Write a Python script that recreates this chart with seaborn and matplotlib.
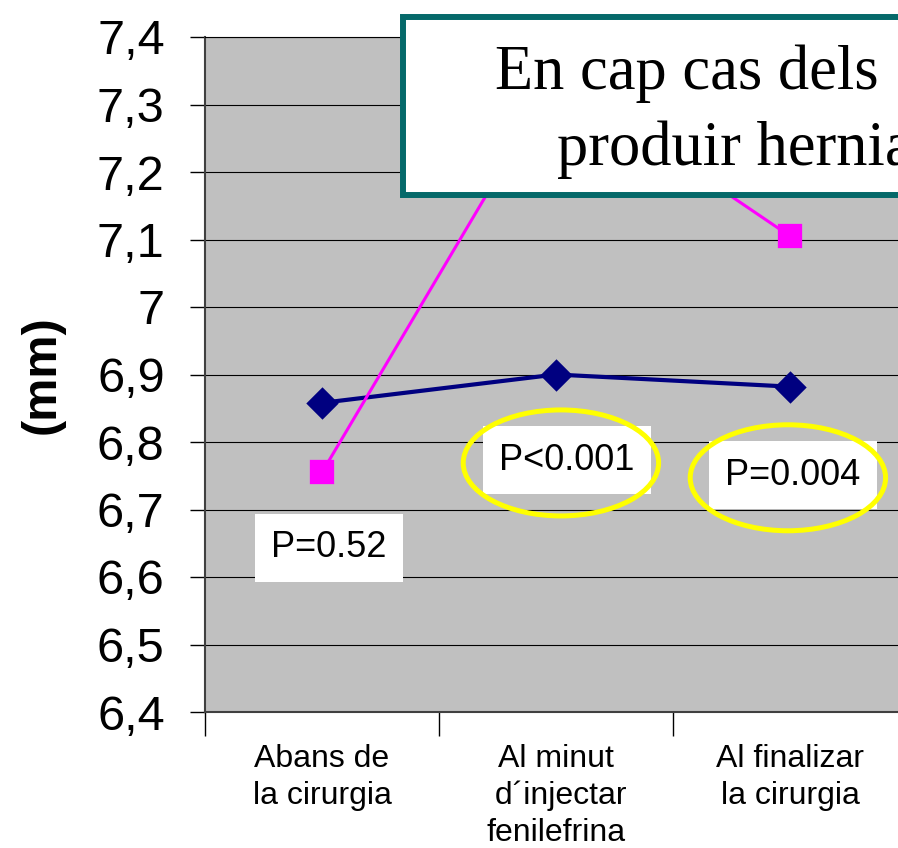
import pandas as pd
import numpy as np
import matplotlib
matplotlib.use("Agg")
import matplotlib.pyplot as plt
from matplotlib.patches import Ellipse, Rectangle
import seaborn as sns

# values
categories = ["Abans de\nla cirurgia", "Al minut\n d´injectar\nfenilefrina", "Al finalizar\nla cirurgia"]
serie_blava = [6.858, 6.900, 6.882]
serie_rosa = [6.755, 7.340, 7.105]
p_labels = ["P=0.52", "P<0.001", "P=0.004"]
yticks = [6.4, 6.5, 6.6, 6.7, 6.8, 6.9, 7.0, 7.1, 7.2, 7.3, 7.4]
ytick_labels = ["6,4", "6,5", "6,6", "6,7", "6,8", "6,9", "7", "7,1", "7,2", "7,3", "7,4"]
box_lines = ["En cap cas dels", "produir herniació"]

df_blava = pd.DataFrame({"moment": categories, "mm": serie_blava})
df_rosa = pd.DataFrame({"moment": categories, "mm": serie_rosa})

sns.set_style("white")
plt.rcParams["font.family"] = ["Liberation Sans", "DejaVu Sans"]
plt.rcParams["text.color"] = "black"
plt.rcParams["axes.labelcolor"] = "black"
plt.rcParams["xtick.color"] = "black"
plt.rcParams["ytick.color"] = "black"

fig = plt.figure(figsize=(8.98, 8.48), dpi=100)
ax = fig.add_axes([205 / 898, 136 / 848, 702 / 898, 675 / 848])
ax.set_facecolor("#C0C0C0")

sns.pointplot(data=df_blava, x="moment", y="mm", order=categories, color="#000080",
              markers="D", markersize=14, linewidth=3, errorbar=None, ax=ax)
sns.pointplot(data=df_rosa, x="moment", y="mm", order=categories, color="#FF00FF",
              markers="s", markersize=16, linewidth=2.2, errorbar=None, ax=ax)

ax.set_xlim(-0.5, 2.5)
ax.set_ylim(6.4, 7.4)
ax.set_yticks(yticks)
ax.set_yticklabels(ytick_labels, fontsize=35)
ax.yaxis.grid(True, color="black", linewidth=0.8)
ax.set_axisbelow(True)
ax.tick_params(axis="y", direction="out", length=11, width=1, pad=18, left=True, color="black")

ax.set_xticks([0, 1, 2])
ax.set_xticklabels(categories, fontsize=23, linespacing=1.3)
ax.set_xticks([-0.5, 0.5, 1.5, 2.5], minor=True)
ax.tick_params(axis="x", which="major", length=0, pad=23)
ax.tick_params(axis="x", which="minor", direction="out", length=17, width=1, bottom=True, color="black")

ax.set_xlabel("")
ax.set_ylabel("(mm)", fontsize=35, fontweight="bold")
ax.yaxis.set_label_coords(-0.2, 0.5)

for side in ["left", "bottom"]:
    ax.spines[side].set_color("#404040")
    ax.spines[side].set_linewidth(1.5)
ax.spines["top"].set_color("black")
ax.spines["top"].set_linewidth(0.8)
ax.spines["right"].set_visible(False)

# p-value labels
p_pos = [(0.03, 6.643), (1.047, 6.773), (2.013, 6.751)]
for (px, py), lab in zip(p_pos, p_labels):
    ax.text(px, py, lab, fontsize=26, ha="center", va="center", zorder=5,
            bbox=dict(boxstyle="square,pad=0.45", facecolor="white", edgecolor="none"))

# yellow circles
for cx, cy in [(1.021, 6.769), (1.991, 6.747)]:
    ax.add_patch(Ellipse((cx, cy), 0.835, 0.157, fill=False, edgecolor="#FFFF00",
                         linewidth=3.6, zorder=6))

# text box on top of the chart
fig.add_artist(Rectangle((403 / 898, (848 - 195) / 848), 0.7, 178 / 848,
                         transform=fig.transFigure, facecolor="white",
                         edgecolor="#05696A", linewidth=4.3, zorder=10))
fig.text(495 / 898, (848 - 89) / 848, box_lines[0], fontsize=45, va="baseline", ha="left",
         family=["Liberation Serif", "DejaVu Serif"], zorder=11)
fig.text(557 / 898, (848 - 165) / 848, box_lines[1], fontsize=45, va="baseline", ha="left",
         family=["Liberation Serif", "DejaVu Serif"], zorder=11)

plt.savefig("out.png", dpi=100)
